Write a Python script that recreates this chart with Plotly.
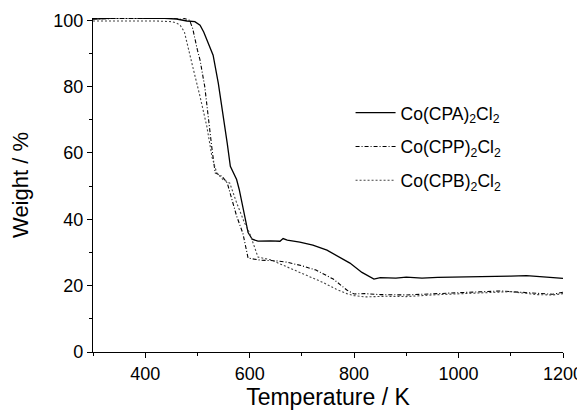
import plotly.graph_objects as go

# Co(CPA)2Cl2 (solid)
cpa_T = [300, 330, 360, 400, 430, 460, 480, 495, 505, 512, 520, 530, 540, 550, 557, 563, 568, 575, 580,
         587, 597, 605, 616, 640, 658, 664, 672, 696, 721, 748, 773, 792, 815, 838, 850, 880, 900, 930,
         960, 1000, 1030, 1060, 1100, 1130, 1150, 1175, 1200]
cpa_W = [100.4, 100.6, 100.8, 100.6, 100.7, 100.4, 99.8, 99.6, 98.5, 96.5, 93.5, 89.5, 81, 71, 63, 56,
         54.5, 52, 49, 43.7, 36, 34, 33.4, 33.5, 33.4, 34.2, 33.7, 33.1, 32.2, 30.7, 28.6, 26.8, 24, 22,
         22.4, 22.3, 22.6, 22.3, 22.5, 22.6, 22.7, 22.6, 22.9, 23.0, 22.7, 22.5, 22.2]

# Co(CPP)2Cl2 (dash-dot)
cpp_T = [300, 340, 380, 420, 450, 470, 485, 491, 500, 505, 514, 520, 528, 534, 540, 547, 557, 566, 575,
         587, 597, 620, 650, 671, 700, 727, 760, 786, 800, 820, 850, 900, 950, 1000, 1050, 1080, 1120,
         1150, 1180, 1200]
cpp_W = [100.5, 100.6, 100.7, 100.6, 100.6, 100.8, 100.0, 97.5, 91, 88, 80, 71, 61, 54, 53.5, 53, 51,
         46, 41, 35.8, 28.3, 27.7, 27.5, 27.1, 26, 24.7, 22, 18.7, 17.5, 17.6, 17.3, 17.2, 17.6, 17.9, 18.2,
         18.4, 18.0, 17.6, 17.4, 18.0]

# Co(CPB)2Cl2 (dotted)
cpb_T = [300, 340, 380, 420, 450, 460, 467, 475, 480, 491, 505, 518, 528, 537, 549, 562, 575, 590, 600,
         610, 616, 640, 664, 690, 716, 740, 765, 786, 800, 820, 860, 900, 950, 1000, 1050, 1100, 1150,
         1180, 1200]
cpb_W = [99.8, 99.7, 99.8, 99.8, 99.6, 99.2, 98.5, 96.5, 93, 86, 77, 68, 58.7, 54, 52, 50.9, 45, 39,
         35.8, 31, 28.6, 27.8, 26.2, 24.5, 22.6, 21, 19, 17.6, 17, 16.6, 16.8, 16.7, 17.2, 17.5, 17.8,
         18.2, 17.3, 17.2, 17.6]

names = ["Co(CPA)<sub>2</sub>Cl<sub>2</sub>",
         "Co(CPP)<sub>2</sub>Cl<sub>2</sub>",
         "Co(CPB)<sub>2</sub>Cl<sub>2</sub>"]

x_ticks = [400, 600, 800, 1000, 1200]
y_ticks = [0, 20, 40, 60, 80, 100]

fig = go.Figure()
fig.add_trace(go.Scatter(x=cpa_T, y=cpa_W, mode="lines", name=names[0], legendgroup="a",
                         line=dict(color="black", width=1.3, dash="solid")))
fig.add_trace(go.Scatter(x=cpp_T, y=cpp_W, mode="lines", name=names[1], legendgroup="b",
                         line=dict(color="black", width=1.1, dash="4px,2px,1px,2px")))
fig.add_trace(go.Scatter(x=cpb_T, y=cpb_W, mode="lines", name=names[2], legendgroup="c",
                         line=dict(color="#444444", width=1.1, dash="2px,2px")))

font_family = "Liberation Sans, Arial, sans-serif"
fig.update_layout(
    width=577, height=410,
    margin=dict(l=85, r=22, t=10, b=66),
    paper_bgcolor="white", plot_bgcolor="white",
    font=dict(family=font_family, size=18, color="black"),
    showlegend=True,
    legend=dict(x=0.548, y=0.77, xanchor="left", yanchor="top",
                bgcolor="rgba(0,0,0,0)", borderwidth=0, tracegroupgap=8,
                font=dict(size=17.5, family=font_family), itemwidth=40),
    xaxis=dict(range=[300, 1200], tickvals=x_ticks, showgrid=False, zeroline=False,
               showline=True, linecolor="black", linewidth=1.2, automargin=False,
               ticks="outside", ticklen=5, tickcolor="black", tickwidth=1.2,
               minor=dict(dtick=100, tick0=300, ticks="outside", ticklen=3, tickcolor="black"),
               tickfont=dict(size=18),
               title=dict(text="Temperature / K", font=dict(size=23), standoff=6)),
    yaxis=dict(range=[0, 100.7], tickvals=y_ticks, showgrid=False, zeroline=False,
               showline=True, linecolor="black", linewidth=1.2, automargin=False,
               ticks="outside", ticklen=5, tickcolor="black", tickwidth=1.2,
               minor=dict(dtick=10, tick0=0, ticks="outside", ticklen=3, tickcolor="black"),
               tickfont=dict(size=18),
               title=dict(text="Weight / %", font=dict(size=22), standoff=20)),
)

fig.write_html("out.html")
